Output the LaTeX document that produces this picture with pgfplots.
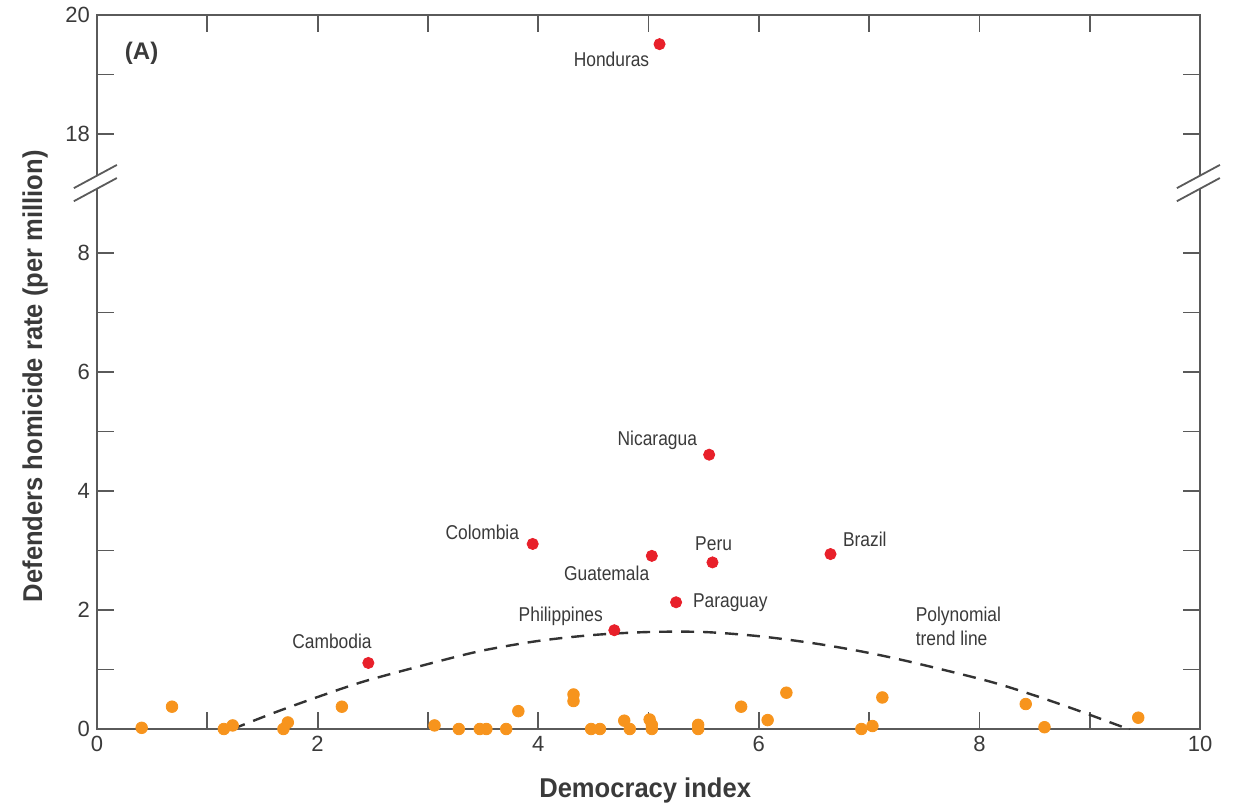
\documentclass[border=0pt]{standalone}
\usepackage{pgfplots}
\pgfplotsset{compat=1.18}
\usepackage{fontspec}
\setmainfont{Liberation Sans}
\newfontfamily\narrowfont[FakeStretch=0.87]{Liberation Sans}
\newfontfamily\labelfont[FakeStretch=0.94]{Liberation Sans}

\definecolor{dotred}{HTML}{E8202A}
\definecolor{dotorange}{HTML}{F7941D}
\definecolor{axisgray}{HTML}{5A5A5A}
\definecolor{labelgray}{HTML}{3A3A3A}

% countries with a rate; the upper panel (y > 17) is drawn 8 units lower
\pgfplotstableread{
x     y
5.55  4.61
3.95  3.11
5.03  2.91
5.58  2.80
6.65  2.94
5.25  2.13
4.69  1.66
2.46  1.11
}\redpts

\pgfplotstableread{
x     y
0.405 0.02
0.68  0.375
1.15  0
1.23  0.06
1.69  0
1.73  0.11
2.22  0.375
3.06  0.06
3.28  0
3.47  0
3.53  0
3.71  0
3.82  0.30
4.32  0.58
4.32  0.47
4.48  0
4.56  0
4.78  0.14
4.83  0
5.01  0.16
5.03  0.07
5.03  0
5.45  0.07
5.45  0
5.84  0.375
6.08  0.15
6.25  0.61
6.93  0
7.03  0.05
7.12  0.53
8.42  0.42
8.59  0.03
9.44  0.19
}\orangepts

\pgfplotstableread{
x     y
1.23  0
1.63  0.29
2.05  0.57
2.44  0.81
3.08  1.13
3.50  1.32
4.00  1.48
4.50  1.58
5.00  1.63
5.50  1.63
6.00  1.56
6.50  1.44
6.94  1.30
7.37  1.13
8.07  0.81
8.49  0.57
8.88  0.32
9.32  0.02
9.36  0
}\trend

\begin{document}
\begin{tikzpicture}[
  lab/.style={font=\narrowfont\fontsize{10}{12}\selectfont, text=labelgray, inner sep=0pt},
  brk/.style={axisgray, line width=0.9pt}
]
\begin{axis}[
  scale only axis,
  width=551.5pt, height=357pt,
  xmin=0, xmax=10, ymin=0, ymax=12,
  xtick={0,2,4,6,8,10}, xticklabels={0,2,4,6,8,10},
  minor xtick={1,3,5,7,9},
  ytick={0,2,4,6,8,10,12}, yticklabels={0,2,4,6,8,18,20},
  minor ytick={1,3,5,7,11},
  tick align=inside,
  major tick length=8.5pt, minor tick length=8.5pt,
  axis line style={axisgray, line width=1pt},
  every tick/.style={axisgray, line width=0.9pt},
  tick label style={font=\fontsize{11}{13}\selectfont, text=labelgray},
  xlabel={Democracy index},
  ylabel={Defenders homicide rate (per million)},
  label style={font=\labelfont\bfseries\fontsize{13.6}{16}\selectfont, text=labelgray},
  xlabel style={at={(axis description cs:0.497,-0.0854)}, anchor=center},
  ylabel style={at={(axis description cs:-0.0562,0.494)}, anchor=center, rotate=0},
  clip=false,
]
\addplot[only marks, mark=*, mark size=2.9pt, color=dotorange] table[x=x, y=y] {\orangepts};
\addplot[smooth, color=black!80, line width=1.2pt, dash pattern=on 6.5pt off 4.5pt] table[x=x, y=y] {\trend};
\addplot[only marks, mark=*, mark size=2.8pt, color=dotred] table[x=x, y=y] {\redpts};
% Honduras, 19.51 per million, in the upper panel
\addplot[only marks, mark=*, mark size=2.8pt, color=dotred, y filter/.expression={y-8}] coordinates {(5.10,19.51)};

\node[lab, anchor=east] at (axis cs:5.01,11.26) {Honduras};
\node[lab] at (axis cs:5.08,4.86) {Nicaragua};
\node[lab, anchor=east] at (axis cs:3.83,3.31) {Colombia};
\node[lab, anchor=east] at (axis cs:5.01,2.62) {Guatemala};
\node[lab, anchor=west] at (axis cs:5.42,3.11) {Peru};
\node[lab, anchor=west] at (axis cs:6.76,3.18) {Brazil};
\node[lab, anchor=west] at (axis cs:5.40,2.13) {Paraguay};
\node[lab, anchor=east] at (axis cs:4.59,1.90) {Philippines};
\node[lab] at (axis cs:2.13,1.48) {Cambodia};
\node[lab, anchor=north west, align=left] at (axis cs:7.42,2.06) {Polynomial\\trend line};
\node[font=\bfseries\fontsize{12}{14}\selectfont, text=labelgray, anchor=west, inner sep=0pt] at (axis cs:0.25,11.36) {(A)};

% axis break marks
\fill[white] (axis cs:-0.06,9.08) rectangle (axis cs:0.06,9.30);
\draw[brk] (axis cs:-0.21,9.09) -- (axis cs:0.18,9.48);
\draw[brk] (axis cs:-0.21,8.87) -- (axis cs:0.18,9.26);
\fill[white] (axis cs:9.94,9.08) rectangle (axis cs:10.06,9.30);
\draw[brk] (axis cs:9.79,9.09) -- (axis cs:10.18,9.48);
\draw[brk] (axis cs:9.79,8.87) -- (axis cs:10.18,9.26);
\end{axis}
\pgfresetboundingbox
\path[use as bounding box] ([shift={(-48.5pt,-39.5pt)}]current axis.south west) rectangle ([shift={(17.5pt,7.5pt)}]current axis.north east);
\end{tikzpicture}
\end{document}
